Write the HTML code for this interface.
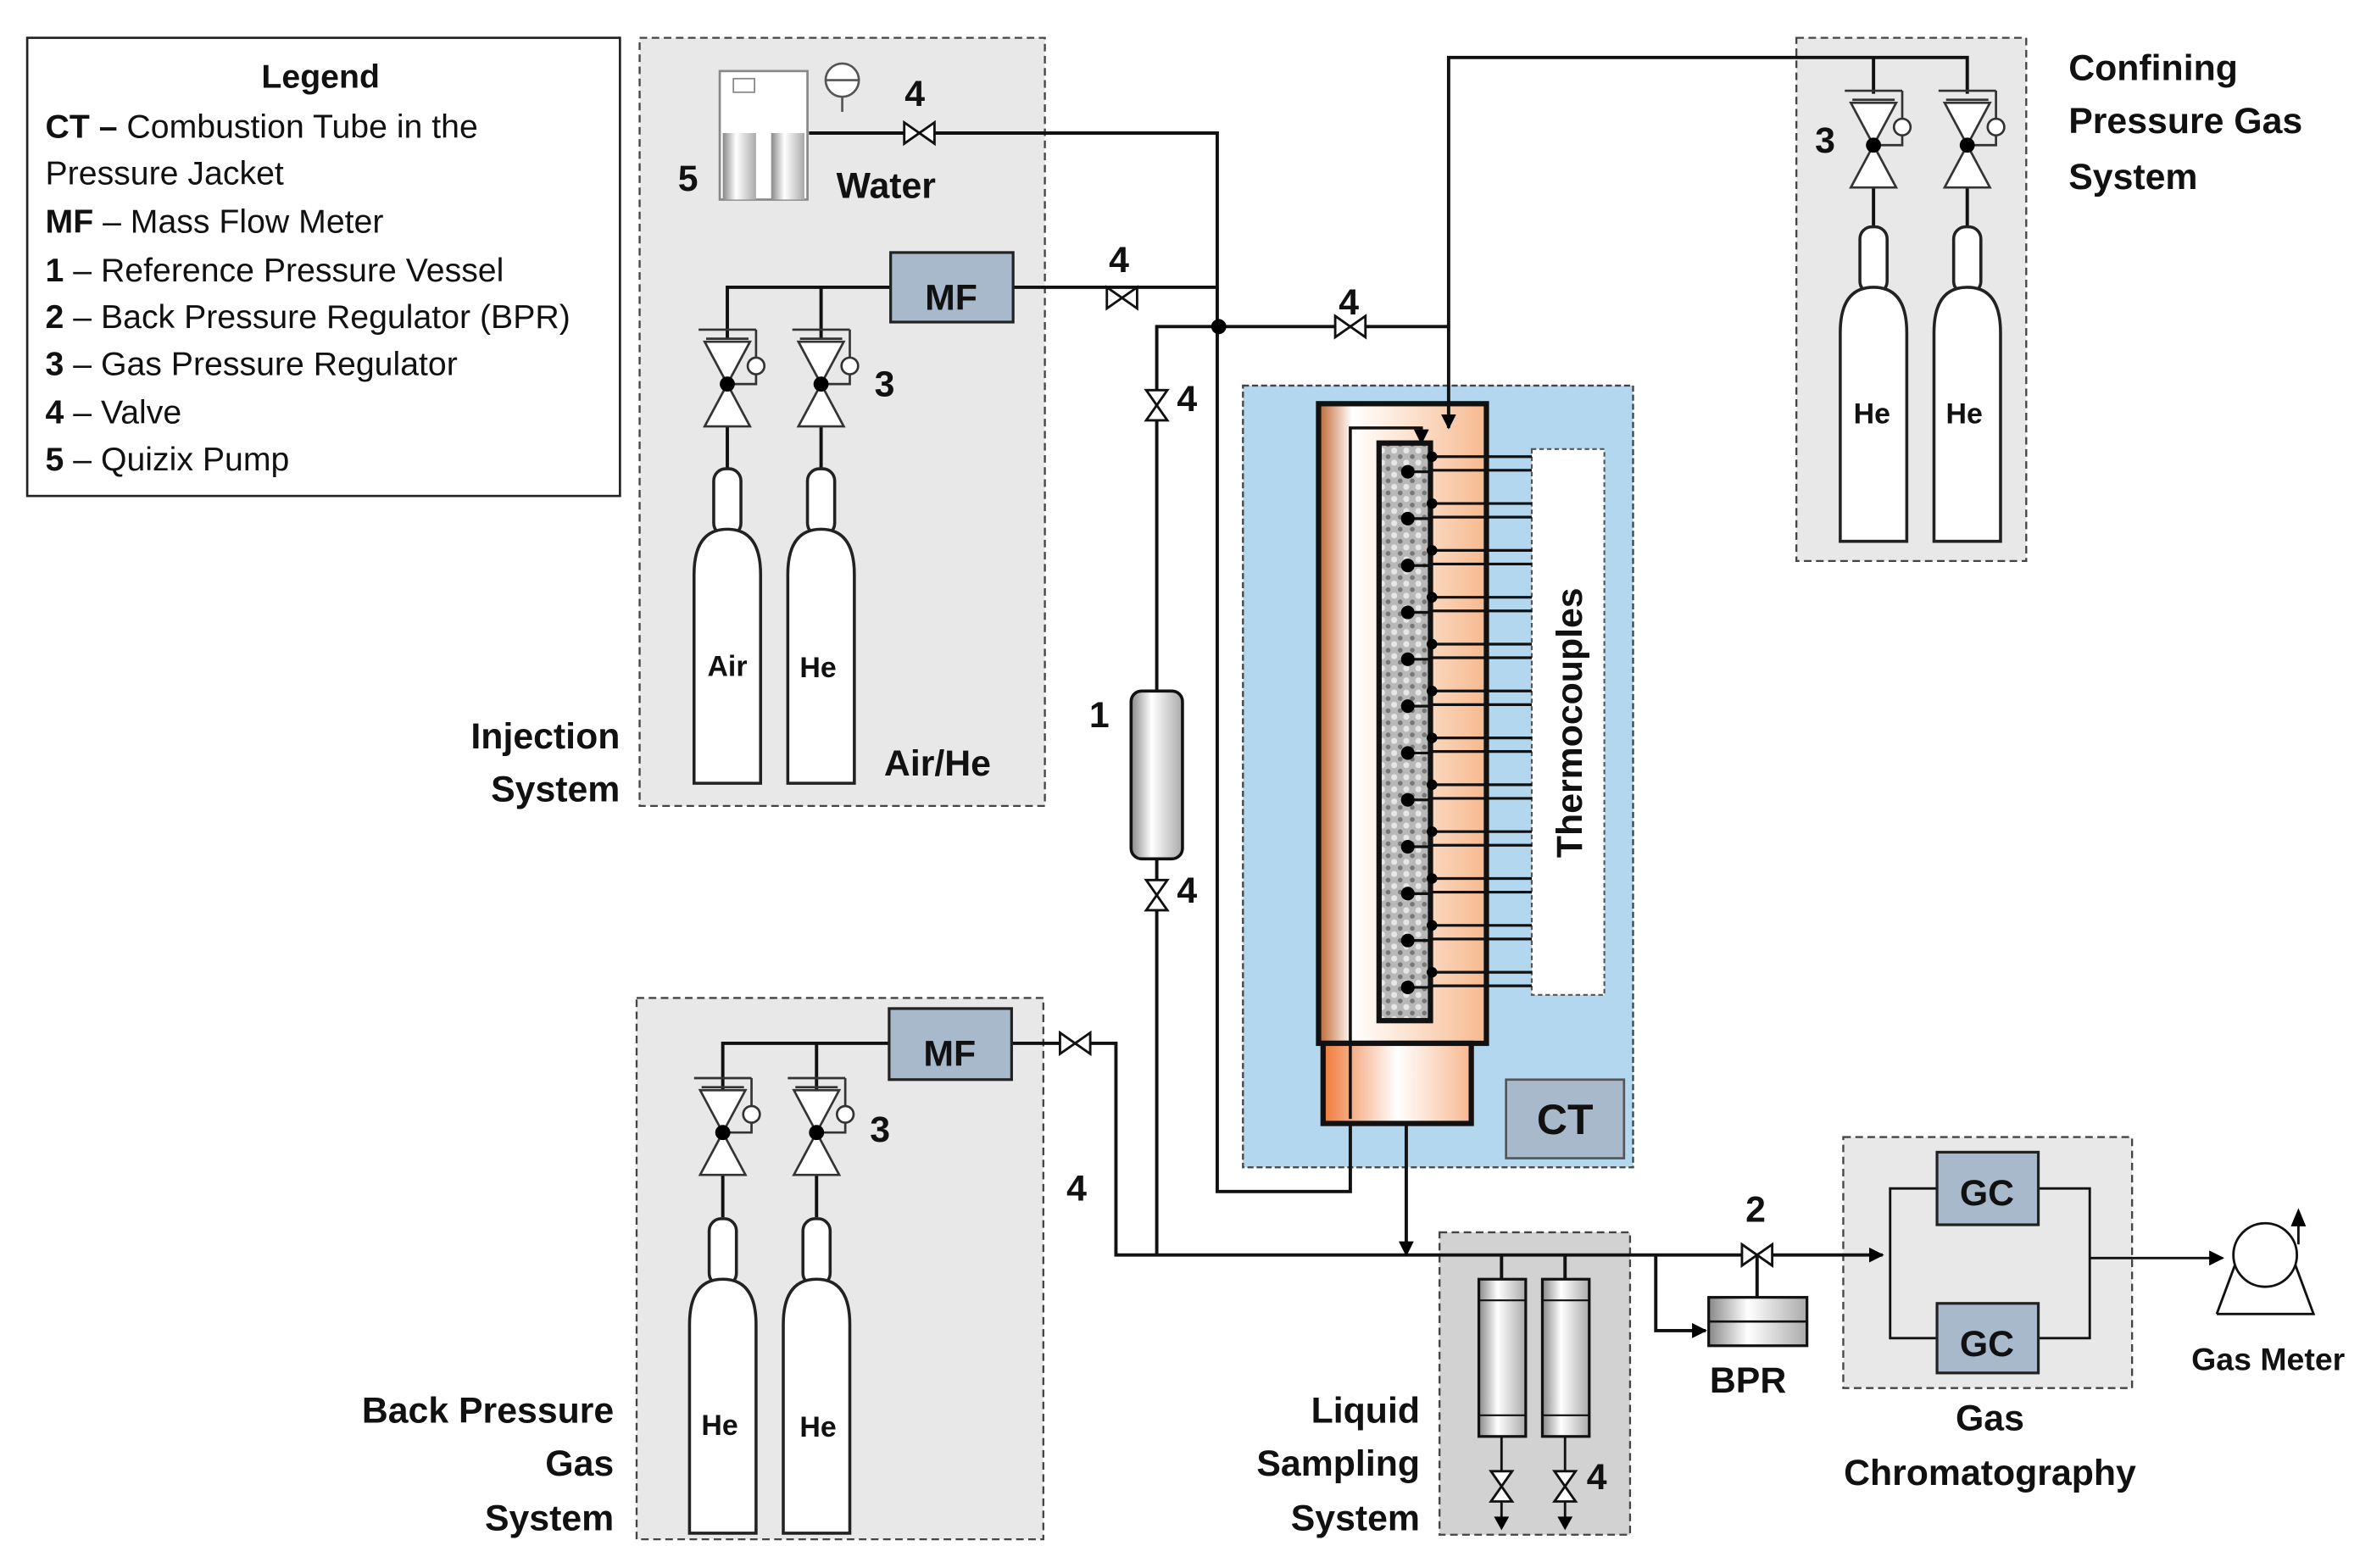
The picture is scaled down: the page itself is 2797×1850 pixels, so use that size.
<!DOCTYPE html>
<html><head><meta charset="utf-8"><style>
html,body{margin:0;padding:0;background:#fff;}
svg{display:block;}
text{font-family:"Liberation Sans",sans-serif;}
</style></head><body>
<svg width="2797" height="1850" viewBox="0 0 1568 1037" preserveAspectRatio="none" xmlns="http://www.w3.org/2000/svg">
<defs>
<linearGradient id="tg" x1="0" x2="1" y1="0" y2="0">
<stop offset="0" stop-color="#c0642e"/><stop offset="0.2" stop-color="#fff"/><stop offset="0.5" stop-color="#fde6d6"/><stop offset="1" stop-color="#f6b98f"/></linearGradient>
<linearGradient id="bg2" x1="0" x2="1"><stop offset="0" stop-color="#ef7a3a"/><stop offset="0.5" stop-color="#fff"/><stop offset="1" stop-color="#f7b890"/></linearGradient>
<linearGradient id="cyl" x1="0" x2="1"><stop offset="0" stop-color="#888"/><stop offset="0.4" stop-color="#fff"/><stop offset="1" stop-color="#aaa"/></linearGradient>
<pattern id="pk" width="8" height="8" patternUnits="userSpaceOnUse"><rect width="8" height="8" fill="#b8b8b8"/><circle cx="2" cy="2" r="2" fill="#e6e6e6"/><circle cx="6" cy="6" r="1.6" fill="#777"/></pattern>
<g id="reg">
<line x1="-19" y1="-36" x2="19" y2="-36" stroke="#333" stroke-width="1.5"/>
<path d="M-15,-28 L15,-28 L0,0 Z M-15,28 L15,28 L0,0 Z" fill="#fff" stroke="#333" stroke-width="1.5"/>
<line x1="-14" y1="-30" x2="14" y2="-30" stroke="#333" stroke-width="1.5"/>
<path d="M19,-36 V-18 M19,-7 V0 H0" fill="none" stroke="#333" stroke-width="1.5"/>
<circle cx="19" cy="-12" r="5.5" fill="#fff" stroke="#333" stroke-width="1.5"/>
<circle cx="0" cy="0" r="5" fill="#000"/>
</g>
<g id="cy">
<rect x="-9" y="0" width="18" height="44" rx="8" fill="#fff" stroke="#222" stroke-width="2"/>
<path d="M-22,208 V70 Q-22,40 0,40 Q22,40 22,70 V208 Z" fill="#fff" stroke="#222" stroke-width="2"/>
</g>
<g id="vh"><path d="M-10,-7 L10,7 L10,-7 L-10,7 Z" fill="#fff" stroke="#111" stroke-width="1.6"/></g>
<g id="vv"><path d="M-7,-10 L7,10 L-7,10 L7,-10 Z" fill="#fff" stroke="#111" stroke-width="1.6"/></g>
<marker id="ar" markerWidth="10" markerHeight="10" refX="9" refY="5" orient="auto" markerUnits="userSpaceOnUse"><path d="M0,0 L10,5 L0,10 Z" fill="#000"/></marker>
</defs>

<rect x="423" y="25" width="268" height="508" fill="#e8e8e8" stroke="#444" stroke-width="1.3" stroke-dasharray="5,3"/>
<rect x="421" y="660" width="269" height="358" fill="#e8e8e8" stroke="#444" stroke-width="1.3" stroke-dasharray="5,3"/>
<rect x="1188" y="25" width="152" height="346" fill="#e8e8e8" stroke="#444" stroke-width="1.3" stroke-dasharray="5,3"/>
<rect x="822" y="255" width="258" height="517" fill="#b3d7ef" stroke="#444" stroke-width="1.3" stroke-dasharray="4,2"/>
<rect x="952" y="815" width="126" height="200" fill="#d2d2d2" stroke="#444" stroke-width="1.3" stroke-dasharray="5,3"/>
<rect x="1219" y="752" width="191" height="166" fill="#e8e8e8" stroke="#444" stroke-width="1.3" stroke-dasharray="5,3"/>

<rect x="18" y="25" width="392" height="303" fill="#fff" stroke="#222" stroke-width="1.5"/>
<g font-size="22" fill="#111">
<text x="212" y="58" text-anchor="middle" font-weight="bold">Legend</text>
<text x="30" y="91"><tspan font-weight="bold">CT – </tspan> Combustion Tube in the</text>
<text x="30" y="122">Pressure Jacket</text>
<text x="30" y="154"><tspan font-weight="bold">MF</tspan> – Mass Flow Meter</text>
<text x="30" y="186"><tspan font-weight="bold">1</tspan> – Reference Pressure Vessel</text>
<text x="30" y="217"><tspan font-weight="bold">2</tspan> – Back Pressure Regulator (BPR)</text>
<text x="30" y="248"><tspan font-weight="bold">3</tspan> – Gas Pressure Regulator</text>
<text x="30" y="280"><tspan font-weight="bold">4</tspan> – Valve</text>
<text x="30" y="311"><tspan font-weight="bold">5</tspan> – Quizix Pump</text>
</g>

<g fill="none" stroke="#111" stroke-width="2.2">
<path d="M535,88 H805 V788 H893 V740"/>
<path d="M670,190 H805"/>
<path d="M765,830 V216 H958"/>
<path d="M958,270 V38 H1301 V62"/>
<path d="M1239,38 V62"/>
<path d="M589,190 H481 V224 M543,190 V224"/>
<path d="M481,280 V310 M543,280 V310"/>
<path d="M588,690 H478 V724 M540,690 V724"/>
<path d="M478,775 V805 M540,775 V805"/>
<path d="M669,690 H738 V830 H1245" marker-end="url(#ar)"/>
<path d="M1239,120 V150 M1301,120 V150"/>
<path d="M930,675 V830" marker-end="url(#ar)"/>
<path d="M993,830 V846 M1035,830 V846"/>
<path d="M1095,830 V880 H1128" marker-end="url(#ar)"/>
<path d="M1162,830 V858"/>
<path d="M1281,786 H1250 V885 H1281 M1348,786 H1382 V885 H1348 M1382,832 H1470" stroke-width="1.6" marker-end="url(#ar)"/>
<path d="M993,950 V1008 M1035,950 V1008" stroke-width="1.6"/>
</g>
<circle cx="806" cy="216" r="5" fill="#000"/>

<use href="#vh" x="608" y="88"/>
<use href="#vh" x="742" y="197"/>
<use href="#vh" x="893" y="216"/>
<use href="#vv" x="765" y="268"/>
<use href="#vv" x="765" y="592"/>
<use href="#vh" x="711" y="690"/>
<use href="#vh" x="1162" y="830"/>
<use href="#vv" x="993" y="983"/>
<use href="#vv" x="1035" y="983"/>
<path d="M988,1003 L993,1012 L998,1003 Z M1030,1003 L1035,1012 L1040,1003 Z" fill="#000"/>

<use href="#reg" x="481" y="254"/>
<use href="#reg" x="543" y="254"/>
<use href="#reg" x="478" y="749"/>
<use href="#reg" x="540" y="749"/>
<use href="#reg" x="1239" y="96"/>
<use href="#reg" x="1301" y="96"/>

<use href="#cy" x="481" y="310"/>
<use href="#cy" x="543" y="310"/>
<use href="#cy" x="478" y="806"/>
<use href="#cy" x="540" y="806"/>
<use href="#cy" x="1239" y="150"/>
<use href="#cy" x="1301" y="150"/>
<g font-size="19" font-weight="bold" fill="#111" text-anchor="middle">
<text x="481" y="447">Air</text><text x="541" y="448">He</text>
<text x="476" y="949">He</text><text x="541" y="950">He</text>
<text x="1238" y="280">He</text><text x="1299" y="280">He</text>
</g>

<rect x="476" y="47" width="58" height="85" fill="#fff" stroke="#888" stroke-width="1.5"/>
<rect x="478" y="88" width="22" height="44" fill="url(#cyl)"/>
<rect x="510" y="88" width="22" height="44" fill="url(#cyl)"/>
<rect x="485" y="52" width="14" height="9" fill="#fff" stroke="#888"/>
<circle cx="557" cy="53" r="11" fill="#fff" stroke="#555" stroke-width="1.5"/>
<line x1="546" y1="53" x2="568" y2="53" stroke="#555" stroke-width="1.5"/>
<line x1="557" y1="64" x2="557" y2="74" stroke="#555" stroke-width="1.5"/>

<rect x="589" y="167" width="81" height="46" fill="#a8b9cc" stroke="#222" stroke-width="1.8"/>
<rect x="588" y="667" width="81" height="47" fill="#a8b9cc" stroke="#222" stroke-width="1.8"/>

<rect x="748" y="457" width="34" height="111" rx="7" fill="url(#cyl)" stroke="#111" stroke-width="2"/>

<rect x="872" y="267" width="111" height="423" fill="url(#tg)" stroke="#111" stroke-width="3.5"/>
<rect x="875" y="690" width="98" height="53" fill="url(#bg2)" stroke="#111" stroke-width="3.5"/>
<path d="M893,740 V283 H940 V293" fill="none" stroke="#111" stroke-width="2" marker-end="url(#ar)"/>
<path d="M958,265 V283" fill="none" stroke="#111" stroke-width="2.2" marker-end="url(#ar)"/>
<rect x="912" y="293" width="34" height="382" fill="url(#pk)" stroke="#111" stroke-width="3.5"/>
<rect x="1013" y="297" width="48" height="361" fill="#fff" stroke="#555" stroke-width="1.2" stroke-dasharray="3,2"/>
<g stroke="#111" stroke-width="1.8">
<line x1="946" y1="302" x2="1013" y2="302"/><line x1="946" y1="311" x2="1013" y2="311"/>
<line x1="946" y1="333" x2="1013" y2="333"/><line x1="946" y1="342" x2="1013" y2="342"/>
<line x1="946" y1="364" x2="1013" y2="364"/><line x1="946" y1="373" x2="1013" y2="373"/>
<line x1="946" y1="395" x2="1013" y2="395"/><line x1="946" y1="404" x2="1013" y2="404"/>
<line x1="946" y1="426" x2="1013" y2="426"/><line x1="946" y1="435" x2="1013" y2="435"/>
<line x1="946" y1="457" x2="1013" y2="457"/><line x1="946" y1="466" x2="1013" y2="466"/>
<line x1="946" y1="488" x2="1013" y2="488"/><line x1="946" y1="497" x2="1013" y2="497"/>
<line x1="946" y1="519" x2="1013" y2="519"/><line x1="946" y1="528" x2="1013" y2="528"/>
<line x1="946" y1="550" x2="1013" y2="550"/><line x1="946" y1="559" x2="1013" y2="559"/>
<line x1="946" y1="581" x2="1013" y2="581"/><line x1="946" y1="590" x2="1013" y2="590"/>
<line x1="946" y1="612" x2="1013" y2="612"/><line x1="946" y1="621" x2="1013" y2="621"/>
<line x1="946" y1="643" x2="1013" y2="643"/><line x1="946" y1="652" x2="1013" y2="652"/>
<line x1="930" y1="312" x2="946" y2="312"/><line x1="930" y1="343" x2="946" y2="343"/>
<line x1="930" y1="374" x2="946" y2="374"/><line x1="930" y1="405" x2="946" y2="405"/>
<line x1="930" y1="436" x2="946" y2="436"/><line x1="930" y1="467" x2="946" y2="467"/>
<line x1="930" y1="498" x2="946" y2="498"/><line x1="930" y1="529" x2="946" y2="529"/>
<line x1="930" y1="560" x2="946" y2="560"/><line x1="930" y1="591" x2="946" y2="591"/>
<line x1="930" y1="622" x2="946" y2="622"/><line x1="930" y1="653" x2="946" y2="653"/>
</g>
<g fill="#000">
<circle cx="931" cy="312" r="4.5"/><circle cx="931" cy="343" r="4.5"/><circle cx="931" cy="374" r="4.5"/><circle cx="931" cy="405" r="4.5"/>
<circle cx="931" cy="436" r="4.5"/><circle cx="931" cy="467" r="4.5"/><circle cx="931" cy="498" r="4.5"/><circle cx="931" cy="529" r="4.5"/>
<circle cx="931" cy="560" r="4.5"/><circle cx="931" cy="591" r="4.5"/><circle cx="931" cy="622" r="4.5"/><circle cx="931" cy="653" r="4.5"/>
<circle cx="947" cy="302" r="3.5"/><circle cx="947" cy="333" r="3.5"/><circle cx="947" cy="364" r="3.5"/><circle cx="947" cy="395" r="3.5"/>
<circle cx="947" cy="426" r="3.5"/><circle cx="947" cy="457" r="3.5"/><circle cx="947" cy="488" r="3.5"/><circle cx="947" cy="519" r="3.5"/>
<circle cx="947" cy="550" r="3.5"/><circle cx="947" cy="581" r="3.5"/><circle cx="947" cy="612" r="3.5"/><circle cx="947" cy="643" r="3.5"/>
</g>
<text x="0" y="0" transform="translate(1046,478) rotate(-90)" font-size="24" font-weight="bold" text-anchor="middle" fill="#111">Thermocouples</text>
<rect x="996" y="714" width="78" height="52" fill="#a8b9cc" stroke="#555" stroke-width="1.5"/>

<rect x="978" y="846" width="31" height="104" fill="url(#cyl)" stroke="#111" stroke-width="1.8"/>
<rect x="1020" y="846" width="31" height="104" fill="url(#cyl)" stroke="#111" stroke-width="1.8"/>
<line x1="978" y1="860" x2="1009" y2="860" stroke="#111" stroke-width="1.2"/><line x1="978" y1="936" x2="1009" y2="936" stroke="#111" stroke-width="1.2"/>
<line x1="1020" y1="860" x2="1051" y2="860" stroke="#111" stroke-width="1.2"/><line x1="1020" y1="936" x2="1051" y2="936" stroke="#111" stroke-width="1.2"/>

<rect x="1130" y="858" width="65" height="32" fill="url(#cyl)" stroke="#111" stroke-width="1.8"/>
<line x1="1130" y1="874" x2="1195" y2="874" stroke="#111" stroke-width="1.5"/>

<rect x="1281" y="762" width="67" height="48" fill="#a8b9cc" stroke="#222" stroke-width="1.8"/>
<rect x="1281" y="862" width="67" height="46" fill="#a8b9cc" stroke="#222" stroke-width="1.8"/>

<path d="M1466,869 L1479,834 M1517,834 L1530,869 H1466" fill="none" stroke="#111" stroke-width="1.6"/>
<circle cx="1498" cy="830" r="21" fill="#fff" stroke="#111" stroke-width="1.6"/>
<path d="M1520,823 V808" stroke="#111" stroke-width="1.6"/>
<path d="M1515,811 L1520,799 L1525,811 Z" fill="#000"/>

<g font-size="24" font-weight="bold" fill="#111">
<text x="605" y="70" text-anchor="middle">4</text>
<text x="455" y="126" text-anchor="middle">5</text>
<text x="586" y="131" text-anchor="middle">Water</text>
<text x="740" y="180" text-anchor="middle">4</text>
<text x="892" y="208" text-anchor="middle">4</text>
<text x="785" y="272" text-anchor="middle">4</text>
<text x="785" y="597" text-anchor="middle">4</text>
<text x="585" y="262" text-anchor="middle">3</text>
<text x="582" y="755" text-anchor="middle">3</text>
<text x="1207" y="101" text-anchor="middle">3</text>
<text x="727" y="481" text-anchor="middle">1</text>
<text x="712" y="794" text-anchor="middle">4</text>
<text x="1161" y="808" text-anchor="middle">2</text>
<text x="1056" y="985" text-anchor="middle">4</text>
<text x="620" y="513" text-anchor="middle">Air/He</text>
<text x="410" y="495" text-anchor="end">Injection</text>
<text x="410" y="530" text-anchor="end">System</text>
<text x="406" y="941" text-anchor="end">Back Pressure</text>
<text x="406" y="976" text-anchor="end">Gas</text>
<text x="406" y="1012" text-anchor="end">System</text>
<text x="1368" y="53">Confining</text>
<text x="1368" y="88">Pressure Gas</text>
<text x="1368" y="125">System</text>
<text x="939" y="941" text-anchor="end">Liquid</text>
<text x="939" y="976" text-anchor="end">Sampling</text>
<text x="939" y="1012" text-anchor="end">System</text>
<text x="1316" y="946" text-anchor="middle">Gas</text>
<text x="1316" y="982" text-anchor="middle">Chromatography</text>
<text x="1156" y="921" text-anchor="middle">BPR</text>
<text x="629" y="205" text-anchor="middle">MF</text>
<text x="628" y="705" text-anchor="middle">MF</text>
<text x="1314" y="797" text-anchor="middle">GC</text>
<text x="1314" y="897" text-anchor="middle">GC</text>
<text x="1035" y="750" text-anchor="middle" font-size="28">CT</text>
<text x="1500" y="906" text-anchor="middle" font-size="21">Gas Meter</text>
</g>
</svg>
</body></html>
